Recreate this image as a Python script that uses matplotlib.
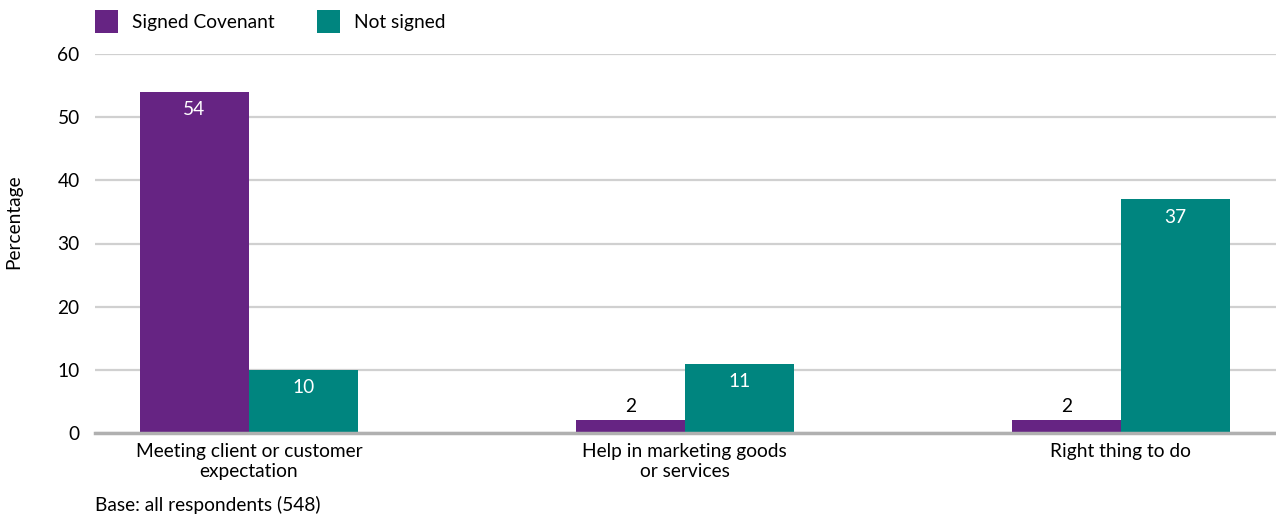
import matplotlib.pyplot as plt
import numpy as np

plt.rcParams['font.family'] = ['Lato', 'DejaVu Sans']

# reasons for signing, two groups of respondents
categories = ["Meeting client or customer\nexpectation",
              "Help in marketing goods\nor services",
              "Right thing to do"]
signed = [54, 2, 2]
not_signed = [10, 11, 37]
series_names = ["Signed Covenant", "Not signed"]
yticks = [0, 10, 20, 30, 40, 50, 60]

purple = "#662483"
teal = "#00857f"
fs = 13.8

fig = plt.figure(figsize=(12.76, 5.17), dpi=100)
ax = fig.add_axes([95 / 1276, (517 - 433) / 517, 1 - 95 / 1276, (433 - 54) / 517])

x = np.arange(len(categories))
w = 0.25
b1 = ax.bar(x - w / 2, signed, w, color=purple, label=series_names[0], zorder=3)
b2 = ax.bar(x + w / 2, not_signed, w, color=teal, label=series_names[1], zorder=3)

# value labels: white inside tall bars, black above short ones
for bars in (b1, b2):
    for r in bars:
        v = r.get_height()
        cx = r.get_x() + r.get_width() / 2
        if v >= 5:
            ax.annotate(f"{v:g}", (cx, v), xytext=(0, -13), textcoords="offset points",
                        ha="center", va="center", color="white", fontsize=fs, zorder=4)
        else:
            ax.annotate(f"{v:g}", (cx, v), xytext=(0, 10), textcoords="offset points",
                        ha="center", va="center", color="black", fontsize=fs, zorder=4)

ax.set_ylim(0, 60)
ax.set_xlim(-0.353, 2.356)
ax.set_yticks(yticks)
ax.set_xticks(x)
ax.set_xticklabels(categories, fontsize=fs, linespacing=1.2)
ax.tick_params(axis="y", length=0, pad=11, labelsize=fs)
ax.tick_params(axis="x", length=0, pad=7)
ax.yaxis.grid(True, color="#d0d0d0", linewidth=1.6, zorder=0)
for s in ("top", "right", "left"):
    ax.spines[s].set_visible(False)
ax.spines["bottom"].set_color("#b0b0b0")
ax.spines["bottom"].set_linewidth(2.5)
ax.spines["bottom"].set_zorder(5)

ax.set_ylabel("Percentage", fontsize=fs)
ax.yaxis.set_label_coords(-73 / 1181, (433 - 222) / 379)

fig.legend(loc="upper left", bbox_to_anchor=(95 / 1276, 1 - 10 / 517), ncol=2, frameon=False,
           fontsize=fs, handlelength=1.2, handleheight=1.5, handletextpad=0.73,
           columnspacing=2.2, borderpad=0, borderaxespad=0)

fig.text(95 / 1276, 1 - 505 / 517, "Base: all respondents (548)", fontsize=fs, va="center")

fig.savefig("out.png", dpi=100)
